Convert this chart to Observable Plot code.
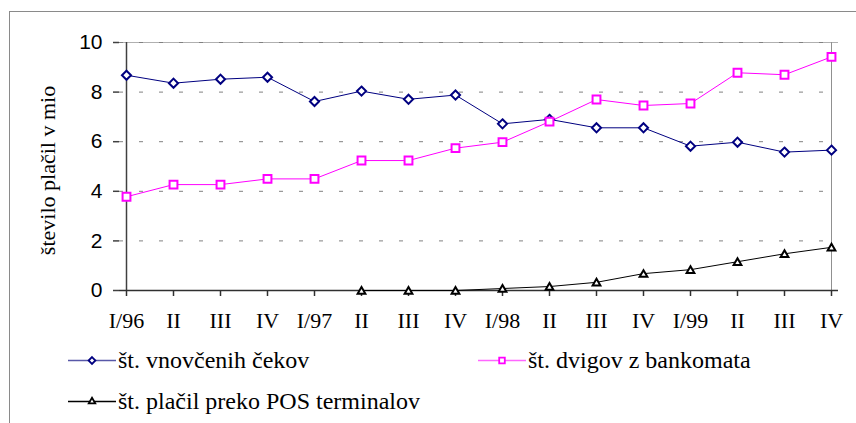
<!DOCTYPE html>
<html>
<head>
<meta charset="utf-8">
<script src="https://cdn.jsdelivr.net/npm/d3@7"></script>
<script src="https://cdn.jsdelivr.net/npm/@observablehq/plot@0.6"></script>
<style>
  html, body { margin: 0; padding: 0; background: #fff; }
  #wrap { position: relative; width: 856px; height: 423px; overflow: hidden; background: #fff; }
  #frame { position: absolute; left: 9px; top: 11px; right: -2px; bottom: -2px; border-left: 1px solid #8a8a8a; border-top: 1px solid #8a8a8a; }
  #chart { position: absolute; left: 0; top: 0; }
  .lg { position: absolute; display: flex; align-items: center; font-family: "Liberation Serif", Tinos, "Times New Roman", "DejaVu Serif", "Noto Serif", serif; font-size: 24px; color: #000; white-space: nowrap; }
  .lg svg { display: block; margin-right: 2px; }
</style>
</head>
<body>
<div id="wrap">
  <div id="frame"></div>
  <div id="chart"></div>
</div>
<script>
const categories = ["I/96","II","III","IV","I/97","II","III","IV","I/98","II","III","IV","I/99","II","III","IV"];
const seriesNames = ["št. vnovčenih čekov", "št. dvigov z bankomata", "št. plačil preko POS terminalov"];
const cheques = [8.68, 8.36, 8.52, 8.60, 7.62, 8.04, 7.71, 7.88, 6.72, 6.90, 6.56, 6.56, 5.82, 5.98, 5.58, 5.66];
const atm     = [3.78, 4.27, 4.27, 4.50, 4.50, 5.24, 5.24, 5.74, 5.98, 6.81, 7.70, 7.46, 7.54, 8.78, 8.70, 9.42];
const pos     = [null, null, null, null, null, 0, 0, 0, 0.08, 0.16, 0.33, 0.68, 0.84, 1.16, 1.48, 1.74];
const yTicks = [0, 2, 4, 6, 8, 10];
const yTitle = "število plačil v mio";

const SERIF = "'Liberation Serif', Tinos, 'Times New Roman', 'DejaVu Serif', 'Noto Serif', serif";
const SANS = "'Liberation Sans', Arial, Helvetica, sans-serif";

const toRows = arr => arr.map((v, i) => ({i, v})).filter(d => d.v !== null);
const rowsC = toRows(cheques), rowsA = toRows(atm), rowsP = toRows(pos);

const NAVY = "#000080", MAG = "#ff00ff", BLK = "#000000";

const chart = Plot.plot({
  width: 856,
  height: 340,
  marginLeft: 119,
  marginRight: 18,
  marginTop: 42,
  marginBottom: 50,
  style: {background: "transparent", color: "#000", overflow: "visible"},
  x: {type: "point", domain: d3.range(categories.length), padding: 0, axis: null},
  y: {domain: [0, 10], axis: null},
  marks: [
    Plot.ruleY([10], {stroke: "#b0b0b0", strokeWidth: 1}),
    Plot.ruleX([categories.length - 1], {y1: 0, y2: 10, stroke: "#909090", strokeWidth: 1}),
    Plot.ruleY(yTicks.filter(t => t > 0), {stroke: "#808080", strokeWidth: 1, strokeDasharray: "4,16"}),
    Plot.ruleX([0], {y1: 0, y2: 10, stroke: "#404040", strokeWidth: 1.5}),
    Plot.ruleY([0], {stroke: "#303030", strokeWidth: 1.5}),
    Plot.axisY({ticks: yTicks, tickSize: 6, tickPadding: 11, fontSize: 21, fontFamily: SANS, label: null, stroke: "#404040", strokeWidth: 1.5}),
    Plot.axisX({tickSize: 6, tickPadding: 16, fontSize: 22, fontFamily: SERIF, label: null, tickFormat: i => categories[i], stroke: "#303030", strokeWidth: 1.5}),
    Plot.text([yTitle], {frameAnchor: "left", textAnchor: "middle", lineAnchor: "middle", dx: -72, dy: 4, rotate: -90, fontSize: 22, fontFamily: SERIF, fill: "#000"}),
    Plot.line(rowsC, {x: "i", y: "v", stroke: NAVY, strokeWidth: 1}),
    Plot.line(rowsA, {x: "i", y: "v", stroke: MAG, strokeWidth: 1}),
    Plot.line(rowsP, {x: "i", y: "v", stroke: BLK, strokeWidth: 1}),
    Plot.dot(rowsC, {x: "i", y: "v", symbol: "diamond2", r: 4.1, stroke: NAVY, strokeWidth: 2, fill: "white"}),
    Plot.dot(rowsA, {x: "i", y: "v", symbol: "square2", r: 5, stroke: MAG, strokeWidth: 2, fill: "white"}),
    Plot.dot(rowsP, {x: "i", y: "v", symbol: "triangle2", r: 3.7, dy: 1, stroke: BLK, strokeWidth: 2, fill: "white"})
  ]
});
document.getElementById("chart").appendChild(chart);

// Legend
const legendItems = [
  {name: seriesNames[0], color: NAVY, lineColor: "#5858a8", sym: d3.symbolDiamond2, size: 30, left: 68, top: 360},
  {name: seriesNames[1], color: MAG, lineColor: "#ff66ff", sym: d3.symbolSquare2, size: 40, left: 478, top: 360},
  {name: seriesNames[2], color: BLK, lineColor: "#000", sym: d3.symbolTriangle2, size: 30, left: 68, top: 401}
];
const wrap = document.getElementById("wrap");
for (const it of legendItems) {
  const div = document.createElement("div");
  div.className = "lg";
  div.style.left = it.left + "px";
  div.style.top = (it.top - 15) + "px";
  div.style.height = "30px";
  const svg = d3.create("svg").attr("width", 48).attr("height", 20);
  svg.append("line").attr("x1", 0).attr("x2", 48).attr("y1", 10.5).attr("y2", 10.5).attr("stroke", it.lineColor).attr("stroke-width", 1.5);
  svg.append("path").attr("d", d3.symbol(it.sym, it.size)()).attr("transform", "translate(24,10.5)")
     .attr("fill", "white").attr("stroke", it.color).attr("stroke-width", 1.8);
  div.appendChild(svg.node());
  const span = document.createElement("span");
  span.textContent = it.name;
  div.appendChild(span);
  wrap.appendChild(div);
}
</script>
</body>
</html>
